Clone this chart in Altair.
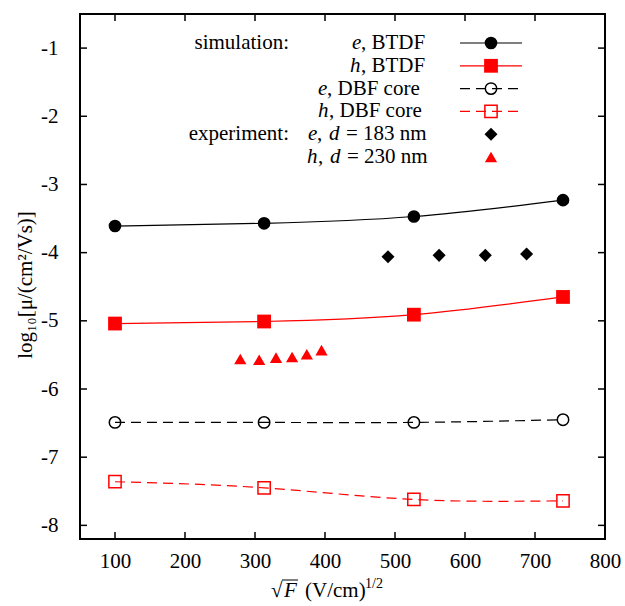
import altair as alt
import pandas as pd

# ---------------- data ----------------
x_sim = [100, 313, 527, 740]
e_btdf = [-3.61, -3.57, -3.47, -3.23]
h_btdf = [-5.04, -5.01, -4.91, -4.65]
e_dbf = [-6.49, -6.49, -6.49, -6.45]
h_dbf = [-7.36, -7.45, -7.62, -7.64]

x_exp_e = [490, 563, 629, 688]
y_exp_e = [-4.06, -4.04, -4.04, -4.02]
x_exp_h = [279, 306, 330, 353, 374, 395]
y_exp_h = [-5.56, -5.57, -5.54, -5.53, -5.49, -5.43]

x_ticks = [100, 200, 300, 400, 500, 600, 700, 800]
y_ticks = [-8, -7, -6, -5, -4, -3, -2, -1]

group_labels = ["simulation:", "experiment:"]

FONT = "Liberation Serif"
W, H = 525, 525

xscale = alt.Scale(domain=[50, 800], nice=False, zero=False)
yscale = alt.Scale(domain=[-8.2, -0.5], nice=False, zero=False)
xaxis = alt.Axis(values=x_ticks, grid=False, ticks=False, domain=False,
                 labelFont=FONT, labelFontSize=21, labelColor="black",
                 labelPadding=11, title=None, labelFlush=False)
yaxis = alt.Axis(values=y_ticks, grid=False, ticks=False, domain=False,
                 labelFont=FONT, labelFontSize=21, labelColor="black",
                 labelPadding=22, labelFlush=False,
                 labelExpr="replace(datum.label, '\u2212', '-')",
                 title="log₁₀[μ/(cm²/Vs)]", titleFont=FONT, titleFontSize=21,
                 titleFontWeight="normal", titleColor="black",
                 titleX=-55, titleY=H / 2 + 8, titleAlign="center",
                 titleBaseline="middle", titleAngle=270)

X = alt.X("x:Q", scale=xscale, axis=xaxis)
Y = alt.Y("y:Q", scale=yscale, axis=yaxis)

layers = []


def sim(xs, ys, color, shape, filled, size, dash=None):
    df = pd.DataFrame({"x": xs, "y": ys})
    kw = {}
    if dash:
        kw["strokeDash"] = dash
    line = alt.Chart(df).mark_line(color=color, strokeWidth=1.2,
                                   interpolate="natural", **kw).encode(x=X, y=Y)
    pts = alt.Chart(df).mark_point(shape=shape, filled=filled, color=color,
                                   size=size, strokeWidth=1.5,
                                   opacity=1).encode(x=X, y=Y)
    return [line, pts]


layers += sim(x_sim, e_btdf, "black", "circle", True, 160)
layers += sim(x_sim, h_btdf, "#ff0000", "square", True, 190)
layers += sim(x_sim, e_dbf, "black", "circle", False, 130, [10, 6])
layers += sim(x_sim, h_dbf, "#ff0000", "square", False, 150, [10, 6])

layers.append(alt.Chart(pd.DataFrame({"x": x_exp_e, "y": y_exp_e}))
              .mark_point(shape="diamond", filled=True, color="black",
                          size=170, opacity=1).encode(x=X, y=Y))
layers.append(alt.Chart(pd.DataFrame({"x": x_exp_h, "y": y_exp_h}))
              .mark_point(shape="triangle-up", filled=True, color="#ff0000",
                          size=150, opacity=1).encode(x=X, y=Y))

# inward ticks on all four sides (mirror ticks)
tx = pd.DataFrame({"x": x_ticks[:-1]})
ty = pd.DataFrame({"y": y_ticks})
tick_style = dict(color="black", strokeWidth=1.5)
layers.append(alt.Chart(tx).mark_rule(**tick_style).encode(
    x=X, y=alt.value(H), y2=alt.value(H - 7)))
layers.append(alt.Chart(tx).mark_rule(**tick_style).encode(
    x=X, y=alt.value(0), y2=alt.value(7)))
layers.append(alt.Chart(ty).mark_rule(**tick_style).encode(
    y=Y, x=alt.value(0), x2=alt.value(7)))
layers.append(alt.Chart(ty).mark_rule(**tick_style).encode(
    y=Y, x=alt.value(W), x2=alt.value(W - 7)))


def txt(s, x, y, italic=False, size=21, align="left", baseline="middle"):
    kw = {"fontStyle": "italic"} if italic else {}
    return (alt.Chart(pd.DataFrame({"t": [s]}))
            .mark_text(font=FONT, fontSize=size, align=align, baseline=baseline,
                       color="black", **kw)
            .encode(x=alt.value(x), y=alt.value(y), text="t:N"))


# ---------------- legend ----------------
ROW0, DY = 29, 22.8
L1, L2, MK = 380, 442, 411
rows_y = [ROW0 + i * DY for i in range(6)]

# label pieces: (text, x, italic)
legend_parts = [
    [("e", 272, True), (", BTDF", 281, False)],
    [("h", 270, True), (", BTDF", 281, False)],
    [("e", 238, True), (", DBF core", 247, False)],
    [("h", 238, True), (", DBF core", 249, False)],
    [("e", 228, True), (",", 237, False), ("d", 249, True), ("= 183 nm", 266, False)],
    [("h", 227, True), (",", 238, False), ("d", 250, True), ("= 230 nm", 267, False)],
]
specs = [
    ("black", None, "circle", True, 160),
    ("#ff0000", None, "square", True, 190),
    ("black", [10, 6], "circle", False, 130),
    ("#ff0000", [10, 6], "square", False, 150),
    ("black", "none", "diamond", True, 170),
    ("#ff0000", "none", "triangle-up", True, 150),
]
for i, (parts, (col, dash, shape, filled, size)) in enumerate(zip(legend_parts, specs)):
    py = rows_y[i]
    for s, x, it in parts:
        layers.append(txt(s, x, py, italic=it))
    d = pd.DataFrame({"row": [i]})
    if dash != "none":
        kw = {"strokeDash": dash} if dash else {}
        layers.append(alt.Chart(d).mark_rule(color=col, strokeWidth=1.2, **kw)
                      .encode(x=alt.value(L1), x2=alt.value(L2), y=alt.value(py)))
    layers.append(alt.Chart(d).mark_point(shape=shape, filled=filled, color=col,
                                          size=size, strokeWidth=1.5, opacity=1)
                  .encode(x=alt.value(MK), y=alt.value(py)))

layers.append(txt(group_labels[0], 209, rows_y[0], align="right"))
layers.append(txt(group_labels[1], 209, rows_y[4], align="right"))

# ---------------- x-axis title ----------------
TB = H + 58
layers.append(txt("√", 191, TB, size=21, baseline="alphabetic"))
layers.append(txt("F", 204, TB, italic=True, size=21, baseline="alphabetic"))
layers.append(alt.Chart(pd.DataFrame({"r": [0]})).mark_rule(color="black", strokeWidth=1)
              .encode(x=alt.value(202), x2=alt.value(218), y=alt.value(TB - 17)))
layers.append(txt("(V/cm)", 225, TB, size=21, baseline="alphabetic"))
layers.append(txt("1/2", 285, TB - 9, size=14, baseline="alphabetic"))

chart = alt.layer(*layers).properties(
    width=W, height=H,
    padding={"left": 80, "top": 14, "right": 20, "bottom": 67},
    autosize=alt.AutoSizeParams(type="none"),
    background="white",
).configure_view(stroke="black", strokeWidth=2)

chart.save("out.html", embed_options={"renderer": "svg", "actions": False})
